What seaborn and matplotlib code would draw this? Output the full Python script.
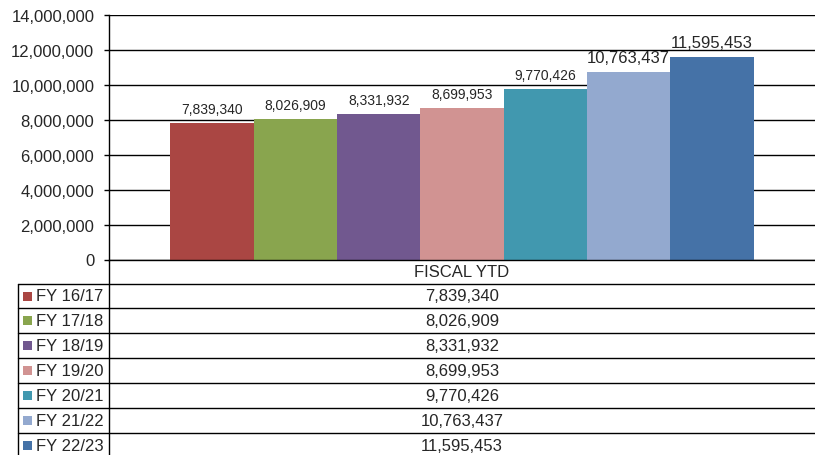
import matplotlib
matplotlib.use("Agg")
import matplotlib.pyplot as plt
import seaborn as sns
import pandas as pd
from matplotlib.lines import Line2D
from matplotlib.patches import Rectangle

# ---- data ----
category = "FISCAL YTD"
series = ["FY 16/17", "FY 17/18", "FY 18/19", "FY 19/20", "FY 20/21", "FY 21/22", "FY 22/23"]
values = [7839340, 8026909, 8331932, 8699953, 9770426, 10763437, 11595453]
colors = ["#AA4643", "#89A54E", "#71588F", "#D19392", "#4198AF", "#93A9CF", "#4572A7"]
label_sizes = [10, 10, 10, 10, 10, 12, 12]
yticks = list(range(0, 14000001, 2000000))

df = pd.DataFrame({"cat": [category] * len(series), "series": series, "value": values})

sns.set_style("white")
plt.rcParams["font.family"] = ["Liberation Sans", "DejaVu Sans"]

W, H = 815, 456
fig = plt.figure(figsize=(W / 100, H / 100), dpi=100)
fig.patch.set_facecolor("white")

L, R, T, B = 109, 815, 16, 260.5
ax = fig.add_axes([L / W, 1 - B / H, (R - L) / W, (B - T) / H])
sns.barplot(data=df, x="cat", y="value", hue="series", hue_order=series,
            palette=colors, width=0.826, legend=False, ax=ax, saturation=1,
            linewidth=0, edgecolor="none")
ax.set_xlim(-0.5, 0.5)
ax.set_ylim(0, 14000000)
ax.set_yticks(yticks)
ax.set_yticklabels([f"{v:,}" for v in yticks], fontsize=12)
ax.set_xticks([])
ax.set_xlabel("")
ax.set_ylabel("")
ax.yaxis.grid(True, color="black", lw=1)
ax.set_axisbelow(True)
for s in ["top", "right"]:
    ax.spines[s].set_visible(False)
for s in ["left", "bottom"]:
    ax.spines[s].set_color("black")
    ax.spines[s].set_linewidth(1)
ax.tick_params(axis="y", length=3.6, width=1, color="black", pad=7, left=True)

for cont, v, fs in zip(ax.containers, values, label_sizes):
    ax.bar_label(cont, labels=[f"{v:,}"], fontsize=fs, padding=5)

# ---- data table ----
tx = fig.add_axes([0, 0, 1, 1])
tx.set_xlim(0, W)
tx.set_ylim(H, 0)
tx.axis("off")
tx.patch.set_alpha(0)

row_tops = [284.5, 309, 334, 359, 384, 409, 434]
row_h = 25
cx = (L + R) / 2
tx.text(cx, (B + row_tops[0]) / 2, category, ha="center", va="center", fontsize=12)
for y in row_tops:
    tx.add_line(Line2D([18, W], [y, y], color="black", lw=1))
tx.add_line(Line2D([18, 18], [row_tops[0], H], color="black", lw=1))
tx.add_line(Line2D([L, L], [B, H], color="black", lw=1))
for i, (name, v, c) in enumerate(zip(series, values, colors)):
    yc = row_tops[i] + row_h / 2
    tx.add_patch(Rectangle((23, yc - 4.5), 9, 9, facecolor=c, edgecolor="none"))
    tx.text(36, yc, name, ha="left", va="center", fontsize=12)
    tx.text(cx, yc, f"{v:,}", ha="center", va="center", fontsize=12)

fig.savefig("out.png", dpi=100)
